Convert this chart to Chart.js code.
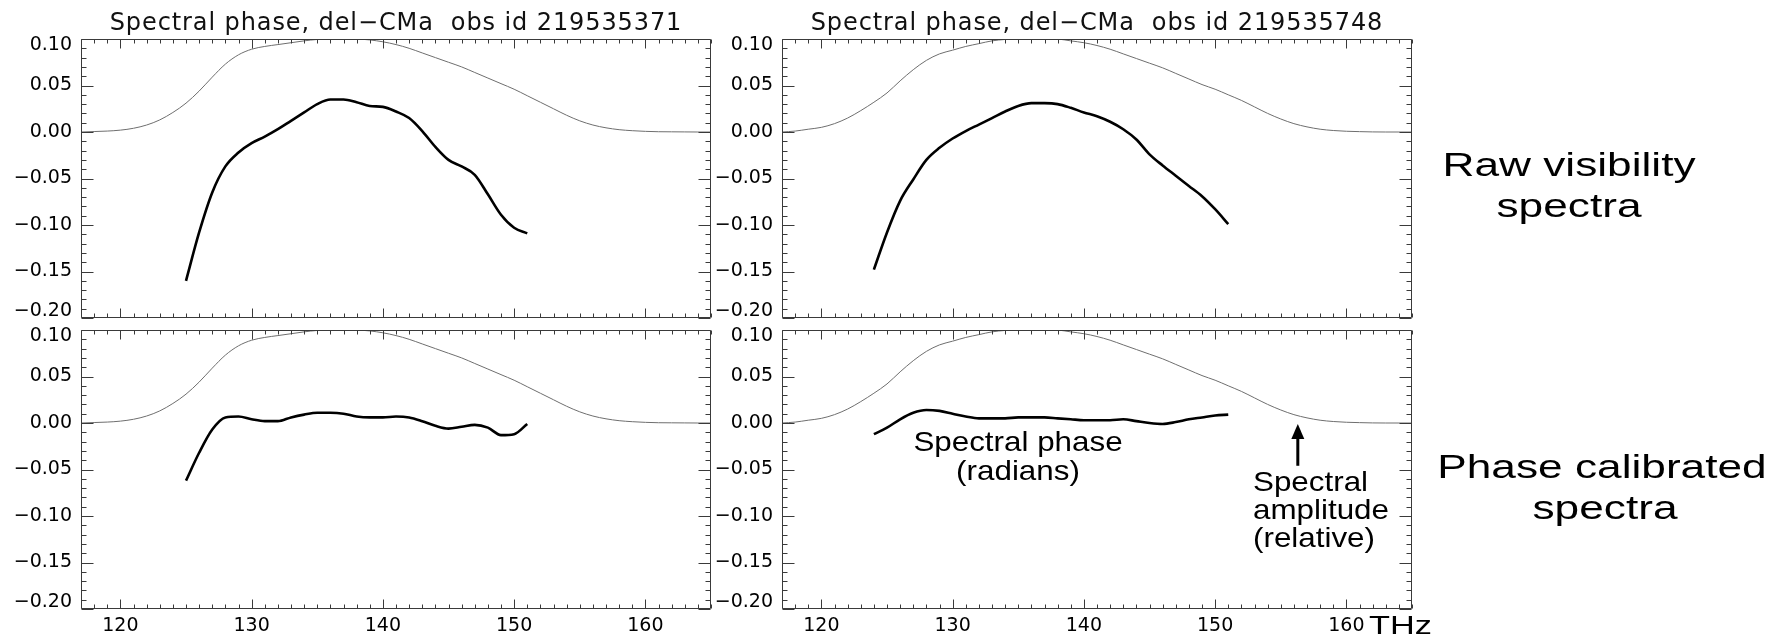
<!DOCTYPE html>
<html>
<head>
<meta charset="UTF-8">
<title>Spectral phase, del-CMa</title>
<script src="https://cdn.jsdelivr.net/npm/chart.js@4.4.1/dist/chart.umd.min.js"></script>
<style>
  body { margin: 0; background: #fff; }
  #wrap { position: relative; width: 1767px; height: 640px; overflow: hidden; font-family: "Liberation Sans", Arial, sans-serif; color: #000; }
  canvas { position: absolute; }
  .t { position: absolute; white-space: pre; line-height: 1; }
  .title { font-family: "DejaVu Sans", sans-serif; font-size: 24px; letter-spacing: 0.9px; text-align: center; width: 700px; color: #111; }
  .side { font-size: 33px; text-align: center; width: 300px; transform: scaleX(1.34); }
  .note { font-size: 28px; transform: scaleX(1.12); }
</style>
</head>
<body>
<div id="wrap">
  <canvas id="tl" width="722" height="340" style="left:0;top:0"></canvas>
  <canvas id="tr" width="712" height="340" style="left:711px;top:0"></canvas>
  <canvas id="bl" width="722" height="340" style="left:0;top:300px"></canvas>
  <canvas id="br" width="712" height="340" style="left:711px;top:300px"></canvas>

  <div class="t title" id="title0" style="left:46px;top:10px"></div>
  <div class="t title" id="title1" style="left:747px;top:10px"></div>

  <div class="t side" style="left:1419px;top:148px">Raw visibility</div>
  <div class="t side" style="left:1419px;top:189px">spectra</div>
  <div class="t side" style="left:1452px;top:450px">Phase calibrated</div>
  <div class="t side" style="left:1455px;top:491px">spectra</div>

  <div class="t note" style="left:868px;top:428px;width:300px;text-align:center">Spectral phase</div>
  <div class="t note" style="left:868px;top:457px;width:300px;text-align:center">(radians)</div>
  <div class="t note" style="left:1253px;top:468px;transform-origin:left">Spectral</div>
  <div class="t note" style="left:1253px;top:496px;transform-origin:left">amplitude</div>
  <div class="t note" style="left:1253px;top:524px;transform-origin:left">(relative)</div>

  <div class="t" style="left:1369px;top:612px;font-size:26px;transform:scaleX(1.32);transform-origin:left">THz</div>
</div>

<script>
// frequency grid of the amplitude curves (THz)
const freqAmp = [117,118,119,120,121,122,123,124,125,126,127,128,129,130,131,132,133,134,135,136,137,138,139,140,141,
                 142,143,144,145,146,147,148,149,150,151,152,153,154,155,156,157,158,159,160,161,162,163,164,165];
// relative spectral amplitude, scaled to 0.10 at peak
const ampLeft  = [0.000,0.0005,0.001,0.002,0.004,0.0075,0.013,0.021,0.031,0.044,0.059,0.073,0.083,0.089,0.092,0.094,0.096,0.098,0.0995,0.100,0.1003,0.100,0.099,0.097,0.094,
                  0.090,0.085,0.080,0.075,0.070,0.064,0.058,0.052,0.046,0.039,0.032,0.025,0.018,0.012,0.0075,0.0045,0.0025,0.0014,0.0007,0.0003,0.0002,0.0001,0.000,0.000];
const ampRight = [0.000,0.001,0.003,0.005,0.009,0.015,0.023,0.032,0.042,0.055,0.067,0.077,0.084,0.088,0.092,0.095,0.098,0.0995,0.100,0.1005,0.1005,0.100,0.098,0.096,0.093,
                  0.089,0.084,0.079,0.074,0.069,0.063,0.057,0.051,0.046,0.040,0.034,0.027,0.020,0.014,0.009,0.0055,0.003,0.0016,0.0008,0.0004,0.0001,0.000,0.000,0.000];

// spectral phase (radians), obs 219535371
const freqPhaseL = [125,126,127,128,129,130,131,132,133,134,135,136,137,138,139,140,141,142,143,144,145,146,147,148,149,150,151];
const phaseRawL  = [-0.160,-0.108,-0.065,-0.037,-0.022,-0.012,-0.005,0.003,0.012,0.021,0.030,0.035,0.035,0.032,0.028,0.027,0.022,0.015,0.001,-0.016,-0.030,-0.037,-0.046,-0.067,-0.089,-0.103,-0.109];
const phaseCalL  = [-0.062,-0.032,-0.007,0.006,0.007,0.004,0.002,0.002,0.006,0.009,0.011,0.011,0.010,0.007,0.006,0.006,0.007,0.006,0.002,-0.003,-0.006,-0.004,-0.002,-0.005,-0.013,-0.012,-0.001];

// spectral phase (radians), obs 219535748
const freqPhaseR = [124,125,126,127,128,129,130,131,132,133,134,135,136,137,138,139,140,141,142,143,144,145,146,147,148,149,150,151];
const phaseRawR  = [-0.148,-0.108,-0.074,-0.051,-0.030,-0.017,-0.007,0.001,0.008,0.015,0.022,0.028,0.031,0.031,0.030,0.026,0.021,0.017,0.011,0.003,-0.008,-0.024,-0.036,-0.047,-0.058,-0.069,-0.083,-0.099];
const phaseCalR  = [-0.012,-0.005,0.004,0.011,0.014,0.013,0.010,0.007,0.005,0.005,0.005,0.006,0.006,0.006,0.005,0.004,0.003,0.003,0.003,0.004,0.002,0.000,-0.001,0.001,0.004,0.006,0.008,0.009];

const xTicks = [120, 130, 140, 150, 160];
const yTicks = [-0.20, -0.15, -0.10, -0.05, 0.00, 0.05, 0.10];
const obsIds = ['219535371', '219535748'];
// arrow pointing at the amplitude curve (THz, radians)
const arrowAt = { x: 156.3, from: -0.046, to: -0.001 };

document.getElementById('title0').textContent = 'Spectral phase, del\u2212CMa  obs id ' + obsIds[0];
document.getElementById('title1').textContent = 'Spectral phase, del\u2212CMa  obs id ' + obsIds[1];

const isMajor = (list, v) => list.some(t => Math.abs(t - v) < 1e-9);

// box round the plot with inward ticks on all four sides (IDL style)
const framePlugin = {
  id: 'frame',
  afterDatasetsDraw(chart, args, opts) {
    const { ctx, chartArea: a, scales: { x, y } } = chart;
    const L = Math.round(a.left) + 0.5, R = Math.round(a.right) - 0.5;
    const T = Math.round(a.top) + 0.5, B = Math.round(a.bottom) - 0.5;
    ctx.save();
    ctx.strokeStyle = '#3a3a3a';
    ctx.lineWidth = 1;
    ctx.beginPath();
    ctx.rect(L, T, R - L, B - T);
    for (let i = -20; i <= 10; i++) {
      const v = i / 100;
      const py = Math.round(y.getPixelForValue(v)) + 0.5;
      const len = isMajor(yTicks, v) ? 12 : 5;
      ctx.moveTo(L, py); ctx.lineTo(L + len, py);
      ctx.moveTo(R, py); ctx.lineTo(R - len, py);
    }
    for (let v = 117; v <= 165; v++) {
      const px = Math.round(x.getPixelForValue(v)) + 0.5;
      const len = isMajor(xTicks, v) ? 9 : 4;
      ctx.moveTo(px, B); ctx.lineTo(px, B - len);
      ctx.moveTo(px, T); ctx.lineTo(px, T + len);
    }
    ctx.stroke();

    if (opts.arrow) {
      const ax = x.getPixelForValue(opts.arrow.x);
      const y0 = y.getPixelForValue(opts.arrow.from);
      const y1 = y.getPixelForValue(opts.arrow.to);
      ctx.strokeStyle = '#000';
      ctx.fillStyle = '#000';
      ctx.lineWidth = 3;
      ctx.beginPath();
      ctx.moveTo(ax, y0); ctx.lineTo(ax, y1 + 12);
      ctx.stroke();
      ctx.beginPath();
      ctx.moveTo(ax, y1); ctx.lineTo(ax - 6.5, y1 + 15); ctx.lineTo(ax + 6.5, y1 + 15);
      ctx.closePath();
      ctx.fill();
    }
    ctx.restore();
  }
};

function yLabel(v) {
  const s = (v < -1e-9 ? '\u2212' : '') + Math.abs(v).toFixed(2);
  // end labels are pulled inside the axis range
  if (Math.abs(v - 0.10) < 1e-9) return ['', s];
  if (Math.abs(v + 0.20) < 1e-9) return [s, ''];
  return s;
}

function makePanel(id, amp, phaseX, phaseY, cfg) {
  return new Chart(document.getElementById(id), {
    type: 'line',
    data: {
      datasets: [
        {
          data: phaseX.map((f, i) => ({ x: f, y: phaseY[i] })),
          borderColor: '#000', borderWidth: 2.6, pointRadius: 0,
          cubicInterpolationMode: 'monotone', fill: false
        },
        {
          data: freqAmp.map((f, i) => ({ x: f, y: amp[i] })),
          borderColor: '#6e6e6e', borderWidth: 1, pointRadius: 0,
          cubicInterpolationMode: 'monotone', fill: false
        }
      ]
    },
    options: {
      responsive: false,
      animation: false,
      devicePixelRatio: 1,
      layout: { padding: { top: cfg.padTop, right: 11, bottom: cfg.padBottom, left: 0 } },
      plugins: {
        legend: { display: false },
        tooltip: { enabled: false },
        frame: { arrow: cfg.arrow || null }
      },
      scales: {
        x: {
          type: 'linear', min: 117, max: 165,
          grid: { display: false, drawTicks: false },
          border: { display: false },
          afterBuildTicks: s => { s.ticks = xTicks.map(v => ({ value: v })); },
          afterFit: s => { s.height = cfg.xHeight; },
          ticks: { display: cfg.xLabels, padding: 6, color: '#000', font: { family: 'DejaVu Sans', size: 19 }, maxRotation: 0, autoSkip: false }
        },
        y: {
          type: 'linear', min: -0.2, max: 0.1,
          grid: { display: false, drawTicks: false },
          border: { display: false },
          afterBuildTicks: s => { s.ticks = yTicks.map(v => ({ value: v })); },
          afterFit: s => { s.width = cfg.yWidth; },
          ticks: {
            padding: 9, color: '#000', autoSkip: false,
            font: ctx => {
              const v = ctx.tick ? ctx.tick.value : 0;
              const edge = Math.abs(v - 0.10) < 1e-9 || Math.abs(v + 0.20) < 1e-9;
              return { family: 'DejaVu Sans', size: 19, lineHeight: edge ? '13px' : 1.2 };
            },
            callback: v => yLabel(v)
          }
        }
      }
    },
    plugins: [framePlugin]
  });
}

makePanel('tl', ampLeft,  freqPhaseL, phaseRawL, { padTop: 39, padBottom: 21, xHeight: 0,  xLabels: false, yWidth: 81 });
makePanel('tr', ampRight, freqPhaseR, phaseRawR, { padTop: 39, padBottom: 21, xHeight: 0,  xLabels: false, yWidth: 71 });
makePanel('bl', ampLeft,  freqPhaseL, phaseCalL, { padTop: 30, padBottom: 0,  xHeight: 31, xLabels: true,  yWidth: 81 });
makePanel('br', ampRight, freqPhaseR, phaseCalR, { padTop: 30, padBottom: 0,  xHeight: 31, xLabels: true,  yWidth: 71, arrow: arrowAt });
</script>
</body>
</html>
